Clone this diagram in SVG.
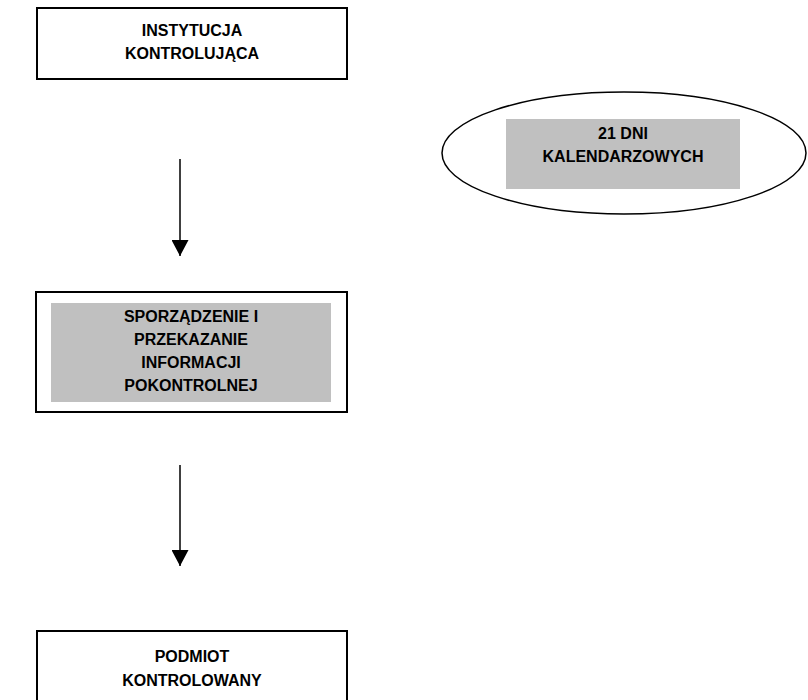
<svg xmlns="http://www.w3.org/2000/svg" width="808" height="700" viewBox="0 0 808 700">
<defs>
<style>
.box{fill:#fff;stroke:#000;stroke-width:2}
.shade{fill:#c0c0c0;stroke:none}
.t{font-family:"Liberation Sans",Arial,sans-serif;font-weight:bold;font-size:16px;fill:#000;text-anchor:middle}
.conn{stroke:#000;stroke-width:1.5;fill:none}
</style>
<marker id="ah" viewBox="0 0 16 17" refX="16" refY="8.5" markerWidth="16" markerHeight="17" markerUnits="userSpaceOnUse" orient="auto">
<path d="M0,0 L16,8.5 L0,17 Z" fill="#000"/>
</marker>
</defs>
<g id="instytucja">
<rect class="box" x="37" y="8" width="310" height="71"/>
<text class="t" x="192" y="36">INSTYTUCJA</text>
<text class="t" x="192" y="59">KONTROLUJĄCA</text>
</g>
<g id="dni">
<ellipse cx="624" cy="153" rx="182" ry="61" fill="#fff" stroke="#000" stroke-width="1.5"/>
<rect class="shade" x="506" y="119" width="234" height="70"/>
<text class="t" x="623" y="139">21 DNI</text>
<text class="t" x="623" y="162">KALENDARZOWYCH</text>
</g>
<g id="sporzadzenie">
<rect class="box" x="36" y="292" width="311" height="120"/>
<rect class="shade" x="51" y="303" width="280" height="99"/>
<text class="t" x="191" y="322">SPORZĄDZENIE I</text>
<text class="t" x="191" y="345">PRZEKAZANIE</text>
<text class="t" x="191" y="368">INFORMACJI</text>
<text class="t" x="191" y="391">POKONTROLNEJ</text>
</g>
<g id="podmiot">
<rect class="box" x="37" y="631" width="310" height="80"/>
<text class="t" x="192" y="662">PODMIOT</text>
<text class="t" x="192" y="686">KONTROLOWANY</text>
</g>
<g id="connectors">
<line class="conn" x1="180" y1="159" x2="180" y2="256" marker-end="url(#ah)"/>
<line class="conn" x1="180" y1="465" x2="180" y2="566" marker-end="url(#ah)"/>
</g>
</svg>
